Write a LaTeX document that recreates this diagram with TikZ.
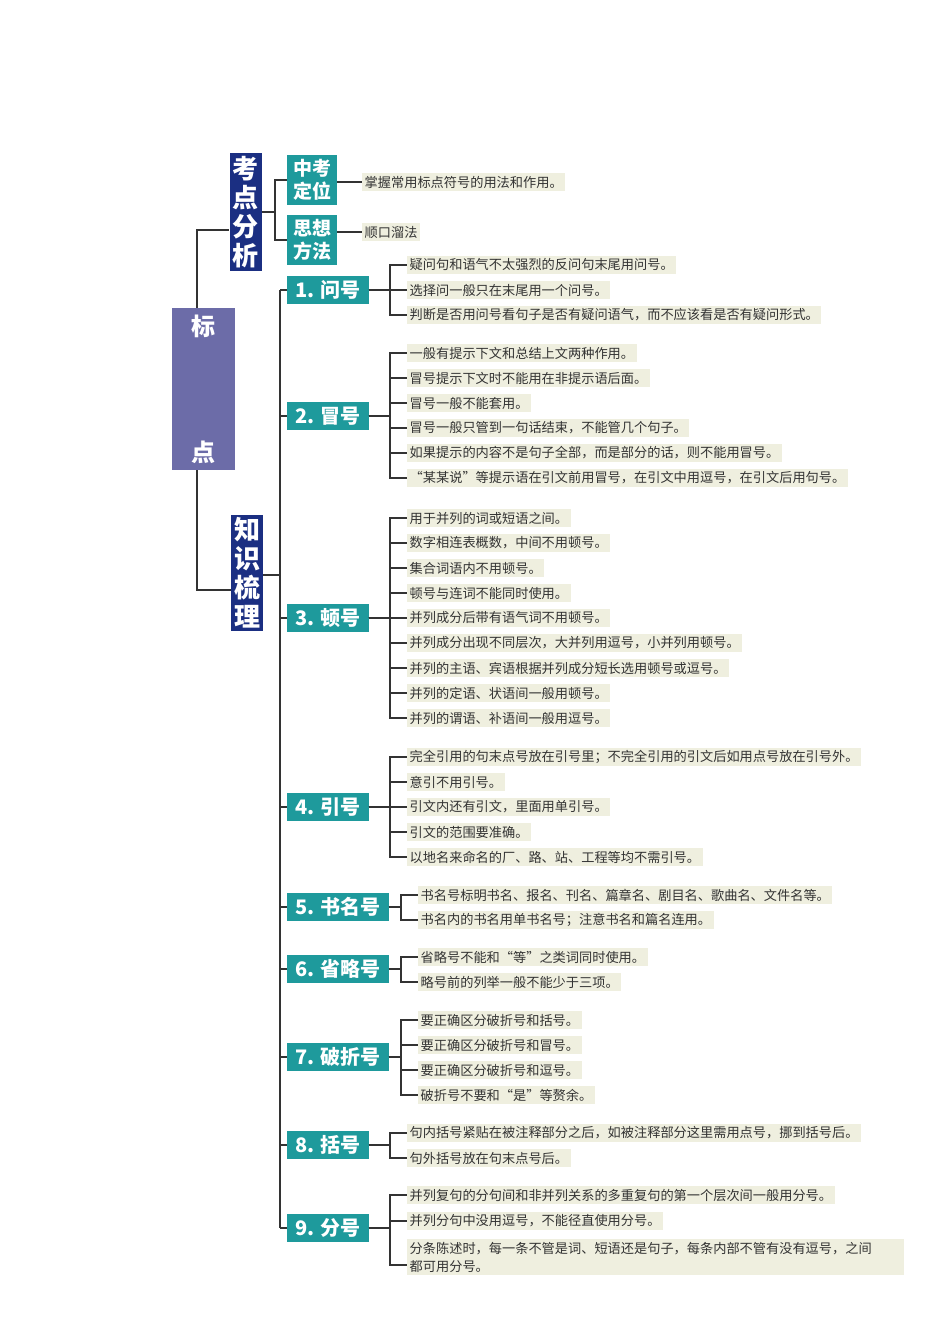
\documentclass[tikz,border=0pt]{standalone}
\usepackage{fontspec}
\setmainfont{Noto Sans CJK SC}
\definecolor{teal1}{HTML}{1E9A9C}
\definecolor{navy1}{HTML}{1B2F82}
\definecolor{purp1}{HTML}{6C6CA8}
\definecolor{beige1}{HTML}{EFEFDF}
\definecolor{txt1}{HTML}{333333}
\definecolor{ln1}{HTML}{333333}
\begin{document}
\begin{tikzpicture}[x=1pt,y=-1pt,
  cat/.style={fill=teal1,text=white,font=\fontsize{20}{22}\selectfont\bfseries,anchor=west,inner xsep=8pt,minimum height=28pt},
  item/.style={fill=beige1,text=txt1,font=\fontsize{13.2}{18}\selectfont,anchor=west,inner sep=2.5pt},
  big/.style={fill=navy1,text=white,font=\fontsize{26}{29}\selectfont\bfseries,align=center,inner xsep=3pt,inner ysep=3pt},
  sub/.style={fill=teal1,text=white,font=\fontsize{19}{23}\selectfont\bfseries,align=center,inner sep=3pt,minimum width=50pt,minimum height=50pt},
  conn/.style={draw=ln1,line width=1.4pt}]
\useasboundingbox (0,0) rectangle (950,1343);
\fill[white] (0,0) rectangle (950,1343);
\node[fill=purp1,text=white,font=\fontsize{24}{28}\selectfont\bfseries,align=center,minimum width=63pt,minimum height=162pt] (root) at (203.5,389) {标\\[98pt]点};
\node[big] (kd) at (245.5,212) {考\\点\\分\\析};
\node[big] (zs) at (247,573) {知\\识\\梳\\理};
\node[sub] (zk) at (312,180) {中考\\定位};
\node[sub] (sx) at (312,240) {思想\\方法};
\node[item] (zk1) at (362,182) {掌握常用标点符号的用法和作用。};
\node[item] (sx1) at (362,232) {顺口溜法};
\draw[conn] (root.north -| 197,0) -- (197,230) -- (kd.west |- 0,230);
\draw[conn] (root.south -| 197,0) -- (197,590) -- (zs.west |- 0,590);
\draw[conn] (kd.east) -- (275,212) |- (zk.west);
\draw[conn] (kd.east) -- (275,212) |- (sx.west);
\draw[conn] (zk.east |- zk1.west) -- (zk1.west);
\draw[conn] (sx.east |- sx1.west) -- (sx1.west);
% categories
\node[cat] (c1) at (287,290) {1. 问号};
\node[cat] (c2) at (287,416) {2. 冒号};
\node[cat] (c3) at (287,618) {3. 顿号};
\node[cat] (c4) at (287,807) {4. 引号};
\node[cat] (c5) at (287,907) {5. 书名号};
\node[cat] (c6) at (287,969) {6. 省略号};
\node[cat] (c7) at (287,1057) {7. 破折号};
\node[cat] (c8) at (287,1145) {8. 括号};
\node[cat] (c9) at (287,1228) {9. 分号};
\coordinate (mtop) at (280,290);
\coordinate (mbot) at (280,1228);
\draw[conn] (zs.east |- 0,575) -- (280,575);
\foreach \k in {1,...,9}{ \draw[conn] (280,0 |- c\k.west) -- (c\k.west); }
\draw[conn] (mtop) -- (mbot);
% items
\newcommand{\items}[3]{% cat, textx, list y/text
  \foreach \y/\t [count=\i] in {#3}{
    \node[item] (#1-\i) at (#2,\y) {\t};
    \draw[conn] (#1.east) -- (#2-17,0 |- #1.east) |- (#1-\i.west);
  }}
\items{c1}{407}{265/疑问句和语气不太强烈的反问句末尾用问号。,290/选择问一般只在末尾用一个问号。,315/判断是否用问号看句子是否有疑问语气，而不应该看是否有疑问形式。}
\items{c2}{407}{353/一般有提示下文和总结上文两种作用。,378/冒号提示下文时不能用在非提示语后面。,403/冒号一般不能套用。,428/冒号一般只管到一句话结束，不能管几个句子。,453/如果提示的内容不是句子全部，而是部分的话，则不能用冒号。,478/“某某说”等提示语在引文前用冒号，在引文中用逗号，在引文后用句号。}
\items{c3}{407}{518/用于并列的词或短语之间。,543/数字相连表概数，中间不用顿号。,568/集合词语内不用顿号。,593/顿号与连词不能同时使用。,618/并列成分后带有语气词不用顿号。,643/并列成分出现不同层次，大并列用逗号，小并列用顿号。,668/并列的主语、宾语根据并列成分短长选用顿号或逗号。,693/并列的定语、状语间一般用顿号。,718/并列的谓语、补语间一般用逗号。}
\items{c4}{407}{757/完全引用的句末点号放在引号里；不完全引用的引文后如用点号放在引号外。,782/意引不用引号。,807/引文内还有引文，里面用单引号。,832/引文的范围要准确。,857/以地名来命名的厂、路、站、工程等均不需引号。}
\items{c5}{418}{895/书名号标明书名、报名、刊名、篇章名、剧目名、歌曲名、文件名等。,920/书名内的书名用单书名号；注意书名和篇名连用。}
\items{c6}{418}{957/省略号不能和“等”之类词同时使用。,982/略号前的列举一般不能少于三项。}
\items{c7}{418}{1020/要正确区分破折号和括号。,1045/要正确区分破折号和冒号。,1070/要正确区分破折号和逗号。,1095/破折号不要和“是”等赘余。}
\items{c8}{407}{1133/句内括号紧贴在被注释部分之后，如被注释部分这里需用点号，挪到括号后。,1158/句外括号放在句末点号后。}
\items{c9}{407}{1195/并列复句的分句间和非并列关系的多重复句的第一个层次间一般用分号。,1221/并列分句中没用逗号，不能径直使用分号。}
\node[item,align=left,text width=492pt] (c9-3) at (407,1257) {分条陈述时，每一条不管是词、短语还是句子，每条内部不管有没有逗号，之间\\都可用分号。};
\draw[conn] (c9.east) -- (390,0 |- c9.east) |- ([yshift=-8pt]c9-3.west);
\end{tikzpicture}
\end{document}
